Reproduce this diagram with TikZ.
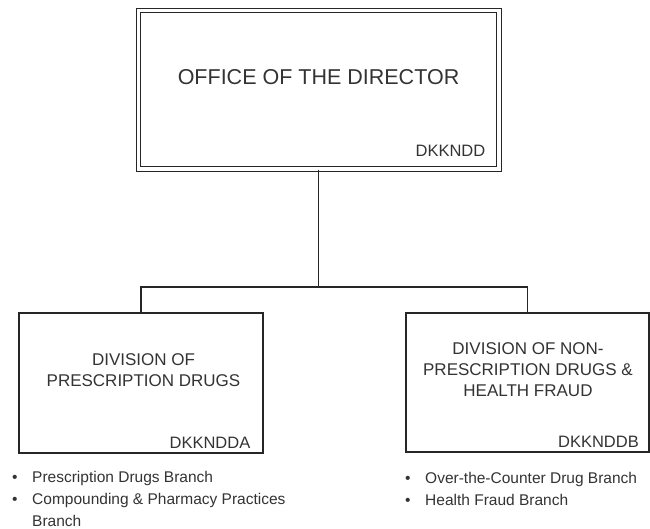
\documentclass[tikz,border=0pt]{standalone}
\usepackage{fontspec}
\setmainfont{Liberation Sans}
\colorlet{ink}{black!80}
\newcommand{\bitem}[1]{\makebox[20pt][l]{\textbullet}#1}

\begin{document}
\begin{tikzpicture}[x=1pt,y=-1pt,
	box/.style={draw=black!85,line width=1.3pt,inner sep=0pt},
	headtext/.style={text=ink,align=center,inner sep=0pt},
	codetext/.style={text=ink,font=\fontsize{16.5}{20}\selectfont,inner sep=0pt,anchor=east},
	bullets/.style={text=ink,align=left,inner sep=0pt,anchor=base west,font=\fontsize{15.5}{22}\selectfont},
	link/.style={draw=black!85,line width=1.3pt}]
	\useasboundingbox (0,0) rectangle (650,529);

	%BOXES
	\node[box,double,double distance=3.4pt,line width=1.2pt,minimum width=360.5pt,minimum height=158.5pt] (director) at (318.75,89.75) {};
	\node[box,minimum width=244pt,minimum height=140pt] (divA) at (141,383) {};
	\node[box,minimum width=243pt,minimum height=139pt] (divB) at (527.5,382.5) {};

	%TEXTS
	\node[headtext,font=\fontsize{21.5}{26}\selectfont] (dirname) at (318.5,77) {OFFICE OF THE DIRECTOR};
	\node[codetext] (dircode) at (485.5,151) {DKKNDD};
	\node[headtext,font=\fontsize{17}{21}\selectfont] (divAname) at (143.5,370.5) {DIVISION OF\\PRESCRIPTION DRUGS};
	\node[codetext] (divAcode) at (250.5,442.5) {DKKNDDA};
	\node[headtext,font=\fontsize{17}{21}\selectfont] (divBname) at (528,370) {DIVISION OF NON-\\PRESCRIPTION DRUGS \&\\HEALTH FRAUD};
	\node[codetext] (divBcode) at (639,442) {DKKNDDB};

	%CONNECTORS
	\coordinate (bus) at (director.south |- 0,287);
	\draw[link] (director.south) -- (bus) -| (divA.north);
	\draw[link] (bus) -| (divB.north);

	%BRANCH LISTS
	\node[bullets] (listA) at (12,526) {\bitem{Prescription Drugs Branch}\\\bitem{Compounding \& Pharmacy Practices}\\\hspace*{20pt}Branch};
	\node[bullets] (listB) at (405,505.5) {\bitem{Over-the-Counter Drug Branch}\\\bitem{Health Fraud Branch}};
\end{tikzpicture}
\end{document}
